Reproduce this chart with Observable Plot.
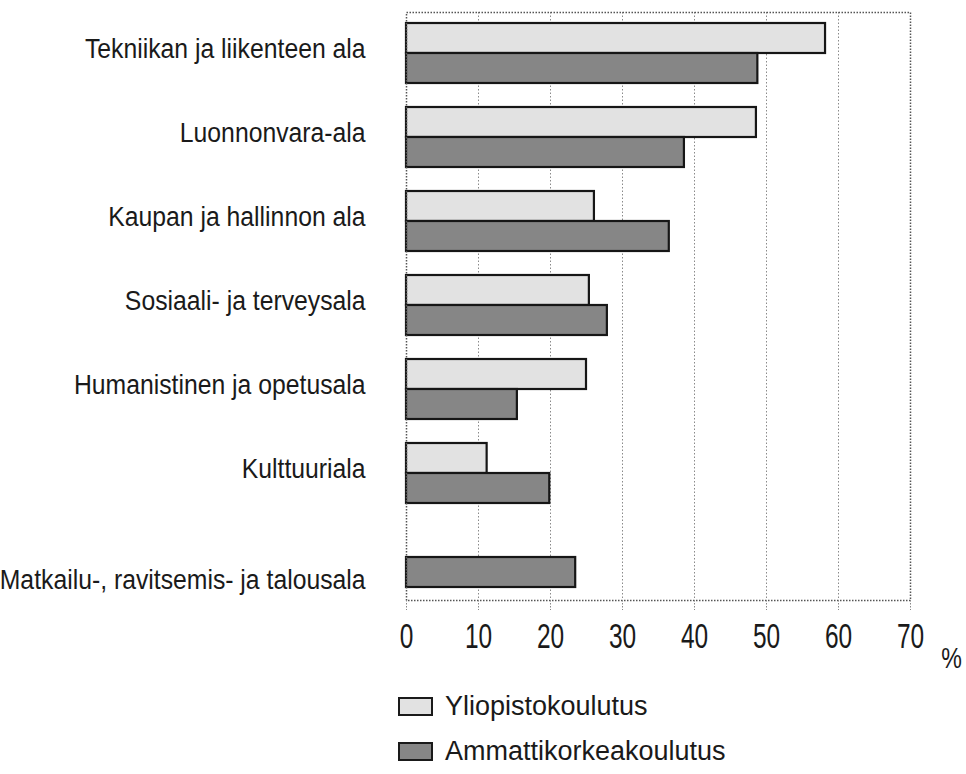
<!DOCTYPE html>
<html>
<head>
<meta charset="utf-8">
<script src="https://cdn.jsdelivr.net/npm/d3@7"></script>
<script src="https://cdn.jsdelivr.net/npm/@observablehq/plot@0.6"></script>
<style>
  html, body { margin: 0; padding: 0; background: #fff; }
  #wrap { position: relative; width: 966px; height: 774px; font-family: "Liberation Sans", Arial, sans-serif; color: #1a1a1a; }
  .leg { position: absolute; left: 398px; display: flex; align-items: center; font-size: 27px; height: 30px; }
  .sw { width: 31px; height: 15px; border: 2px solid #1a1a1a; margin-right: 12px; }
</style>
</head>
<body>
<div id="wrap">
  <div id="chart"></div>
  <div class="leg" style="top:691px"><div class="sw" id="sw1"></div><span id="l1"></span></div>
  <div class="leg" style="top:736px"><div class="sw" id="sw2"></div><span id="l2"></span></div>
</div>
<script>
const categories = [
  "Tekniikan ja liikenteen ala",
  "Luonnonvara-ala",
  "Kaupan ja hallinnon ala",
  "Sosiaali- ja terveysala",
  "Humanistinen ja opetusala",
  "Kulttuuriala",
  "Matkailu-, ravitsemis- ja talousala"
];
const seriesNames = ["Yliopistokoulutus", "Ammattikorkeakoulutus"];
const yliopisto = [58.2, 48.6, 26.1, 25.4, 25.0, 11.2, null];
const amk = [48.8, 38.6, 36.5, 27.9, 15.4, 19.9, 23.5];
const xTicks = [0, 10, 20, 30, 40, 50, 60, 70];
const gridTicks = [10, 20, 30, 40, 50, 60];
const colors = ["#e2e2e2", "#868686"];

const yliData = categories.map((c, i) => ({cat: c, v: yliopisto[i]})).filter(d => d.v != null);
const amkData = categories.map((c, i) => ({cat: c, v: amk[i]}));
const withYli = categories.filter((c, i) => yliopisto[i] != null);
const withoutYli = categories.filter((c, i) => yliopisto[i] == null);

const chart = Plot.plot({
  width: 966,
  height: 680,
  marginLeft: 406,
  marginRight: 56,
  marginTop: 12,
  marginBottom: 80,
  style: {fontFamily: "Liberation Sans, Arial, sans-serif", color: "#1a1a1a", background: "#fff"},
  x: {domain: [0, 70], axis: null},
  y: {domain: categories, padding: 0, axis: null},
  marks: [
    Plot.ruleX(gridTicks, {stroke: "#8a8a8a", strokeWidth: 1, strokeDasharray: "1.5,2"}),
    Plot.barX(yliData, {x: "v", y: "cat", insetTop: 11, insetBottom: 43, fill: colors[0], stroke: "#161616", strokeWidth: 2.2}),
    Plot.barX(amkData, {x: "v", y: "cat", insetTop: 41, insetBottom: 13, fill: colors[1], stroke: "#161616", strokeWidth: 2.2}),
    Plot.frame({stroke: "#555", strokeWidth: 1.5, strokeDasharray: "1.5,1.5"}),
    Plot.axisX({ticks: xTicks, tickSize: 10, tickPadding: 13, fontSize: 35, stroke: "#888", strokeDasharray: "1.5,1.5", label: null, tickFormat: d => String(d)}),
    Plot.text(withYli, {y: d => d, frameAnchor: "left", textAnchor: "end", dx: -41, dy: -5, fontSize: 27.5, fill: "#1a1a1a", className: "catlab"}),
    Plot.text(withoutYli, {y: d => d, frameAnchor: "left", textAnchor: "end", dx: -41, dy: 22, fontSize: 27.5, fill: "#1a1a1a", className: "catlab"}),
    Plot.text(["%"], {frameAnchor: "bottom-right", dx: 54, dy: 67, fontSize: 29, fill: "#1a1a1a", className: "pct"})
  ]
});
document.getElementById("chart").appendChild(chart);

// Condense text horizontally around its anchor (the original uses a narrow typeface)
function condense(sel, sx, frac) {
  d3.select(chart).selectAll(sel).each(function() {
    const b = this.getBBox();
    const ax = b.x + b.width * frac;
    const tr = this.getAttribute("transform") || "";
    this.setAttribute("transform", `${tr} translate(${ax},0) scale(${sx},1) translate(${-ax},0)`);
  });
}
condense('g[aria-label="x-axis tick label"] text', 0.7, 0.5);
condense('g.catlab text', 0.9, 1);
condense('g.pct text', 0.8, 0.5);

document.getElementById("sw1").style.background = colors[0];
document.getElementById("sw2").style.background = colors[1];
document.getElementById("l1").textContent = seriesNames[0];
document.getElementById("l2").textContent = seriesNames[1];
</script>
</body>
</html>
